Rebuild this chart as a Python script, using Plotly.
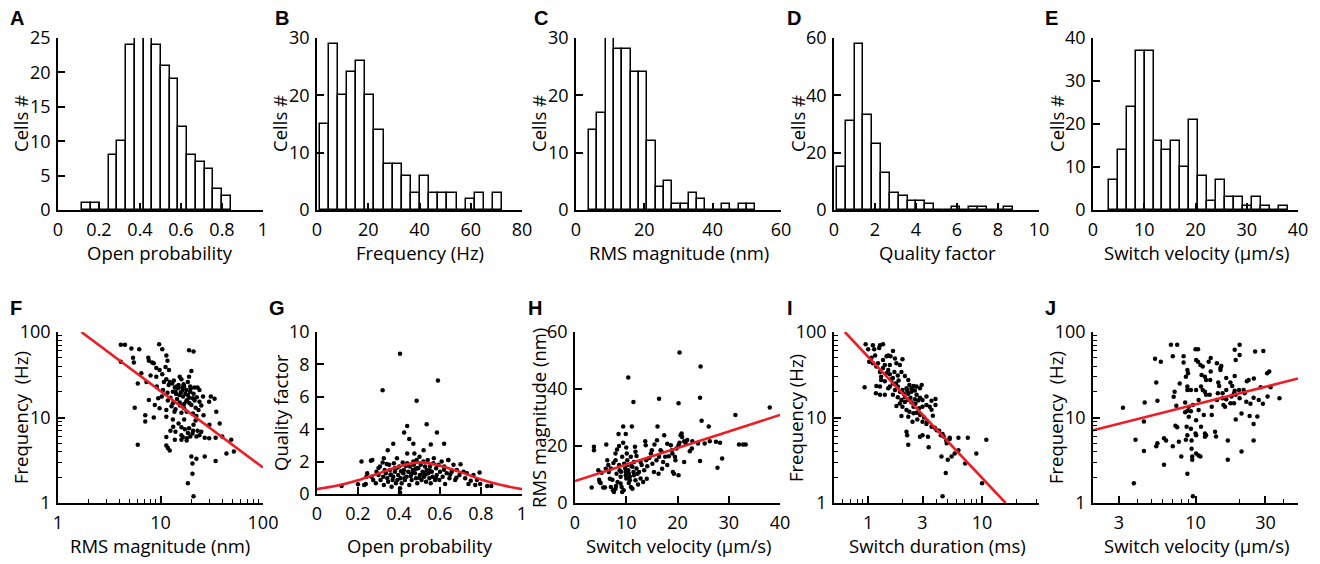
import plotly.graph_objects as go

# ---------------- histogram data (top row) ----------------
op_start, op_width = 0.119, 0.0426
op_counts = [1, 1, 0, 8, 10, 24, 25, 25, 24, 21, 19, 12, 8, 7, 6, 3, 2]

fr_start, fr_width = 1.04, 3.56
fr_counts = [15, 29, 20, 24, 26, 20, 14, 8, 8, 6, 3, 6, 3, 3, 3, 0, 2, 3, 0, 3]

rms_start, rms_width = 3.8, 2.435
rms_counts = [14, 17, 30, 28, 28, 24, 24, 12, 4, 5, 1, 1, 3, 2, 0, 0, 1, 0, 1, 1]

qf_start, qf_width = 0.146, 0.43
qf_counts = [15, 31, 58, 33, 23, 13, 6, 5, 3, 3, 2, 0, 0, 1, 0, 1, 1, 0, 0, 1]

sv_start, sv_width = 3.06, 1.75
sv_counts = [7, 14, 24, 37, 37, 16, 14, 16, 10, 21, 8, 2, 7, 3, 3, 1, 3, 1, 0, 1]

# ---------------- scatter data (bottom row) ----------------
# F: RMS magnitude vs frequency
f_rms = [4.1, 4.5, 9.7, 5.2, 6.2, 10.4, 19, 21,
         5.4, 7.6, 7.7, 4.1, 5.5, 8.3, 8.6, 11.4, 11.7, 9.1, 11.2,
         9.8, 10.4, 8, 9.1, 6.5, 12.1, 15.4, 16, 13.5, 20, 19,
         7.3, 6, 11.4, 12.3, 14.3, 14.8, 16.3, 17, 18, 19.5, 21.5, 23, 24, 10.6, 11.7, 13.2,
         15.4, 16.6, 18.5, 20.7, 22.6, 26, 31, 33.7, 10.3, 7.7, 9.5, 11.8, 13.2, 15.4, 17, 19.2, 24, 29.8, 12.8, 5.6,
         9.8, 11.4, 13.7, 16, 18, 20.7, 22.4, 26.3, 35, 7.1, 8.6, 11.4, 37.8, 13.2,
         7.1, 13.3, 16, 17.3, 18.5, 20.5, 22.4, 24, 27, 11.4, 13.8, 16, 18, 19.5, 29.8, 34.5, 49, 11.4, 11.8, 12.3, 6, 16,
         20, 22.4, 27, 20.5, 20.5, 18.5, 21, 34.5, 44, 52,
         13, 14, 15, 16.5, 17.5, 18.5, 19.5, 21, 14.5, 15.5, 17, 18.2, 20, 22, 13.8, 16.8, 19, 12.5, 14, 21.5,
         23.5, 25, 12, 10.8, 9.2, 8.8, 14.2, 15.8, 17.8, 19.8,
         15, 17, 19, 21, 23, 14, 16.5, 12.5, 18, 25, 30, 40, 22, 20.8]
f_freq = [71, 71, 72, 64, 63, 63, 61, 59,
          50, 50, 46, 45, 44, 44, 43, 53, 46, 38, 39,
          36, 32, 31, 30, 33, 36, 30, 28, 27, 35, 30,
          26, 25, 28, 26, 23, 22, 22.5, 23, 21, 23, 22.5, 22.5, 21, 21, 19.5, 20,
          18.3, 17.6, 18.3, 16.8, 17.3, 17.6, 17.6, 16.6, 17.6, 16, 16.8, 15.8, 14.7, 15, 14.4, 14.7, 15.3, 15.3, 13.5, 13,
          12.8, 12.2, 11.7, 11.4, 11.7, 11.1, 10.4, 10.6, 11.7, 10.6, 10, 10.2, 8.5, 9.5,
          9, 7.8, 7.7, 7.3, 6.6, 6.5, 6, 6.2, 5.8, 5.9, 5.5, 5.5, 5.7, 6, 5.7, 5.8, 5.5, 4.7, 4.4, 4.1, 4.8, 6.2,
          3.5, 3.3, 3.5, 2.9, 2.2, 1.7, 1.2, 3.1, 3.8, 4,
          25, 20, 24, 21, 19, 26, 20, 19, 16.5, 13.8, 12.8, 16, 14, 13, 22.5, 24.5, 17, 17, 12.5, 15.8,
          12.2, 13.8, 24, 26, 23, 14, 18.8, 19.8, 15.5, 22,
          8.5, 9.5, 7.5, 8.2, 7, 6.8, 5.9, 7, 5.4, 6.8, 8.2, 6, 9.2, 7]
f_fit_x = [1.69, 100]
f_fit_y = [100, 2.6]

# G: open probability vs quality factor
g_po = [0.405, 0.59, 0.32, 0.486, 0.44, 0.535, 0.425, 0.45, 0.585, 0.372, 0.345, 0.47, 0.62,
        0.555, 0.52, 0.475, 0.263, 0.326, 0.64, 0.7, 0.793, 0.12, 0.2, 0.83, 0.85, 0.405,
        0.217, 0.27, 0.23, 0.238, 0.241, 0.245, 0.266, 0.274, 0.287, 0.29,
        0.3, 0.307, 0.31, 0.32, 0.323, 0.326, 0.33, 0.336, 0.343, 0.347,
        0.352, 0.356, 0.359, 0.364, 0.369, 0.372, 0.375, 0.38, 0.385, 0.388,
        0.392, 0.396, 0.401, 0.405, 0.408, 0.413, 0.418, 0.421, 0.424, 0.429,
        0.434, 0.437, 0.44, 0.445, 0.45, 0.454, 0.457, 0.462, 0.467, 0.47,
        0.473, 0.478, 0.483, 0.486, 0.489, 0.494, 0.5, 0.502, 0.506, 0.51,
        0.515, 0.519, 0.522, 0.527, 0.532, 0.535, 0.54, 0.543, 0.548, 0.551,
        0.555, 0.56, 0.564, 0.568, 0.576, 0.581, 0.584, 0.592, 0.597, 0.6,
        0.608, 0.613, 0.62, 0.625, 0.633, 0.641, 0.646, 0.657, 0.666, 0.674,
        0.682, 0.695, 0.715, 0.723, 0.731, 0.739, 0.75, 0.763, 0.772, 0.78, 0.796,
        0.36, 0.38, 0.41, 0.43, 0.46, 0.48, 0.5, 0.53, 0.55, 0.58,
        0.62, 0.65, 0.68, 0.3, 0.34, 0.39, 0.44, 0.49, 0.52, 0.57]
g_qf = [8.66, 7.0, 6.4, 5.75, 4.2, 4.3, 3.8, 3.4, 3.8, 3.1, 2.7, 3.1, 3.1,
        3.05, 2.7, 2.5, 2.06, 2.2, 2.1, 1.84, 1.32, 0.5, 0.6, 0.5, 0.5, 0.1,
        2.0, 2.1, 0.56, 0.62, 1.07, 1.28, 1.07, 0.87, 0.66, 1.38,
        1.18, 1.7, 0.87, 1.94, 1.07, 0.56, 1.48, 1.28, 0.97, 0.76,
        1.8, 1.48, 1.18, 0.45, 0.87, 1.07, 1.9, 1.38, 0.66, 1.59,
        0.87, 1.18, 1.7, 0.35, 0.97, 0.66, 1.94, 1.28, 1.48, 0.87,
        1.73, 1.07, 2.5, 1.38, 0.56, 1.7, 1.11, 0.87, 1.48, 2.0,
        1.8, 1.28, 0.97, 2.1, 0.66, 1.59, 2.3, 1.18, 1.8, 0.87,
        1.38, 2.0, 1.07, 1.7, 0.76, 1.48, 2.1, 1.28, 0.97, 1.7,
        0.66, 1.38, 1.07, 1.9, 0.87, 1.59, 1.18, 1.8, 0.87, 1.38,
        2.0, 1.07, 1.7, 0.62, 1.28, 2.1, 0.97, 1.38, 1.8, 0.87,
        1.48, 1.18, 1.38, 0.97, 1.28, 0.62, 0.82, 1.18, 0.56, 0.87, 0.62,
        1.2, 1.6, 1.4, 1.0, 1.25, 1.55, 1.0, 1.2, 1.45, 1.0,
        1.5, 1.2, 1.0, 1.6, 1.85, 2.2, 1.9, 1.6, 1.3, 2.2]
g_fit_x = [0, 0.1, 0.2, 0.3, 0.4, 0.5, 0.6, 0.7, 0.8, 0.9, 1.0]
g_fit_y = [0.3, 0.52, 0.85, 1.27, 1.7, 1.95, 1.75, 1.35, 0.9, 0.55, 0.3]

# H: switch velocity vs RMS magnitude
h_vel = [20.4, 24.5, 10.4, 11.4, 16.4, 20.2, 24.4, 24.7, 31.3, 38, 26.1, 32, 32.8, 33.3, 28.7,
         27.8, 24.4, 22.9, 24, 25.3, 27.5, 28.3, 26.3, 22.4, 22.8,
         3.25, 3.7, 3.7, 4.55, 4.7, 4.8, 5.2, 5.5, 5.85, 6.1,
         6.3, 6.5, 6.6, 7, 7.3, 7.4, 7.6, 7.9, 7.9, 8.1,
         8.3, 8.5, 8.6, 8.6, 8.7, 8.9, 8.9, 9.1, 9.2, 9.4,
         9.4, 9.6, 9.8, 9.9, 9.9, 10, 9.9, 10.1, 10.2, 10.2,
         10.4, 10.5, 10.7, 10.7, 10.9, 10.9, 11.1, 11.2, 11.4, 11.5,
         11.5, 11.7, 11.8, 12, 12.2, 12.5, 12.8, 13, 13.3, 13.7,
         13.8, 13.9, 14.1, 14.8, 15, 15.1, 15.4, 15.9, 16.1, 16.3,
         16.4, 16.7, 16.9, 17.2, 17.4, 17.6, 18, 18.3, 18.7, 18.9,
         19, 19.1, 19.3, 19.5, 19.6, 19.8, 20.2, 20.2, 20.4, 20.6,
         20.8, 20.9, 21.3, 21.3, 21.6, 21.9,
         7, 7.9, 11.2, 11.8, 12.8, 9.2,
         5, 6, 7.5, 8.2, 9, 10.5, 11, 12, 13.5, 14.5, 15.5, 17, 18, 6.8, 8, 10, 12.3, 14, 16, 9.5]
h_rms = [52.8, 47.9, 44, 35.4, 36.6, 35, 36.9, 28.9, 30.9, 33.5, 26.8, 20.5, 20.5, 20.5, 15.6,
         12.4, 14.7, 21.7, 20.9, 20.9, 21.5, 21.1, 21.7, 18.2, 19.1,
         5.4, 19.7, 18.5, 11.5, 8.2, 7.4, 10.6, 5.4, 5.4, 20.5,
         15, 13.3, 10.9, 12.1, 8.2, 4.5, 3.9, 17.4, 15, 10.3,
         7.4, 24.2, 20, 13.3, 11.5, 9.2, 6.8, 5.6, 16.2, 21.1,
         26.8, 13.8, 12.1, 10.9, 9.7, 8.6, 24.2, 17.4, 15, 13.3,
         11.5, 10.3, 9.2, 8, 5.6, 16.2, 26.8, 12.7, 10.9, 9.7,
         14.4, 19.7, 18, 12.1, 10.3, 10.9, 14.4, 13.3, 7.4, 21.7,
         20.3, 15, 12.9, 17.4, 18.5, 13.8, 10.9, 15, 26.8, 10.3,
         16.2, 18.5, 18, 14.4, 23.8, 16.2, 13.3, 16.4, 20.3, 18.5,
         17.4, 10.9, 10.3, 16.2, 15, 19.1, 9.7, 20.3, 21.1, 23.8,
         24.4, 23.2, 14.4, 21.7, 20.9, 22.1,
         5.6, 5, 5, 8, 8.6, 3.9,
         7, 12, 14, 18.8, 11, 7, 13, 16.5, 11.5, 15.8, 20.5, 12, 20.8, 8.5, 6, 19.5, 6.5, 8.5, 22, 4.5]
h_fit_x = [0, 40]
h_fit_y = [7.7, 30.9]

# I: switch duration vs frequency
i_dur = [0.95, 1.1, 1.27, 1.35, 1.0, 1.13, 1.25, 1.65, 1.5, 1.57,
         2.0, 1.02, 1.1, 1.22, 1.35, 1.77, 1.9, 0.93, 1.27, 1.3,
         1.5, 1.55, 1.7, 1.82, 1.96, 2.1, 2.25, 1.18, 1.27, 1.17,
         1.27, 1.4, 1.55, 1.65, 1.72, 1.82, 1.9, 2.0, 2.17, 2.3,
         2.4, 2.5, 2.66, 2.85, 2.95, 1.65, 1.82, 1.96, 2.1, 2.25,
         2.4, 2.57, 2.66, 2.85, 1.77, 2.0, 2.17, 2.3, 2.5, 2.66,
         2.85, 3.0, 3.25, 3.47, 3.9, 3.9, 3.6, 2.25, 1.96, 2.45,
         3.0, 3.25, 3.6, 4.0, 4.35, 4.6, 4.85, 5.2, 6.2, 7.5,
         2.17, 2.2, 2.25, 2.85, 3.0, 3.35, 3.4, 4.4, 5.0, 5.4,
         5.75, 6.2, 7.1, 4.8, 8.9, 10, 10.9, 4.5, 3.85, 4.2,
         4.5, 5.2, 4.9, 1.07, 1.15, 1.45, 1.72, 1.18, 1.4, 1.55,
         1.3, 1.4, 1.65, 2.25, 2.4, 2.57, 2.75, 3.0, 3.25, 3.6,
         1.9, 2.1, 2.5,
         1.45, 1.6, 1.75, 1.85, 2.05, 2.2, 2.35, 2.6, 2.8, 3.1, 1.35, 1.5, 2.7, 3.3, 3.7]
i_freq = [72, 70, 70, 72, 63, 63, 65, 60, 53, 52,
          48, 45, 43, 43, 47, 43, 41, 22.6, 34, 30,
          36, 32, 34, 31, 34, 30.5, 27.5, 23.4, 23, 19.2,
          18.4, 18.4, 23, 25, 21, 23, 20, 21, 22, 24,
          22, 23.4, 23, 22, 24, 18.4, 17.3, 16, 17.3, 16,
          15, 16.4, 18.4, 17, 13.6, 13.4, 12.2, 11.7, 11.2, 11.4,
          10.7, 13.4, 14, 13.4, 14, 16.5, 12.3, 10.2, 10.4, 8.9,
          8.9, 8.4, 7.8, 7.1, 6.2, 6.0, 5.4, 5.8, 5.8, 5.8,
          6.8, 6.2, 4.8, 5.95, 6.2, 5.95, 4.5, 3.5, 3.2, 3.5,
          3.8, 4.15, 2.9, 2.25, 3.8, 1.7, 5.5, 1.2, 7.6, 7.0,
          6.4, 5.6, 5.0, 50, 53, 52, 49, 39.5, 41, 41,
          27.5, 26.5, 29, 19, 20, 20.7, 15.8, 16, 17.6, 15.7,
          14.6, 15.2, 13.4,
          33, 28, 25, 27, 19, 20.5, 17, 14.5, 12.8, 10, 38, 22, 9.5, 9, 10.5]
i_fit_x = [0.624, 16.1]
i_fit_y = [100, 1]

# J: switch velocity vs frequency
j_vel = [3.2, 3.9, 3.8, 4.5, 4.45, 4.45, 5.3, 5.4, 5.5, 5.4,
         5.5, 5.8, 6.1, 6.3, 6.1, 6.8, 7.5, 7, 7.2, 7.1,
         7.4, 7.3, 7.5, 7, 7.8, 7.7, 8, 8.3, 8.3, 8.8,
         8.9, 8.6, 8.8, 8.8, 8.5, 9, 8.8, 8.5, 9.0, 8.7,
         8.8, 8.6, 8.8, 9.4, 9.4, 9.5, 9.5, 9.6, 9.3, 9.6,
         9.3, 9.3, 10, 10.4, 10.1, 10.4, 10.1, 10.5, 10.5, 10.1,
         10, 10.1, 10.1, 10.5, 10.8, 10.8, 11.2, 11, 11.6, 11.8,
         10.9, 11.2, 11.6, 11.8, 11.4, 10.9, 11.6, 11.6, 11.8, 12.3,
         12.7, 12.7, 12.6, 12.5, 12.9, 12.9, 13.6, 13.8, 14, 14.3,
         14.5, 14, 14.2, 14.8, 14.8, 15, 15.3, 15.3, 15.5, 15.9,
         16.2, 16.2, 16.2, 16.6, 16.6, 17.3, 17.8, 18.3, 18.5, 17.6,
         17.3, 18.3, 18.8, 18.8, 18.5, 18.8, 18.5, 20, 20, 19.8,
         20, 20.6, 20.6, 21.3, 21.6, 22.4, 22.2, 23, 23.4, 23.7,
         24.9, 25, 25.5, 24.9, 24.9, 26.4, 27, 27.8, 29, 28.8,
         31, 31.8, 32.5, 37.4, 30.8]
j_freq = [13, 5.5, 1.7, 15, 9, 4.05, 48.5, 25.6, 15.7, 4.6,
          5, 45, 5.7, 5.4, 2.8, 71, 71, 52, 20, 17.5,
          13.7, 8, 7.7, 4.6, 25, 5.2, 3.5, 52, 44, 36,
          33, 30, 23, 21, 15, 13.4, 12, 11.5, 10.2, 7.8,
          6.2, 5.5, 2.2, 5.4, 4.3, 3.5, 3.2, 1.2, 21, 14,
          11.8, 7.4, 63, 63, 47, 45, 21, 16, 12.2, 9.3,
          6.5, 6.2, 3.8, 3.6, 3.5, 41, 39.5, 31.5, 30, 27.5,
          23, 21, 20, 18.4, 10.7, 7.8, 6.5, 5.95, 6.2, 45,
          49.5, 34.5, 27.5, 18.4, 13.4, 10.7, 6.8, 6, 43, 25.6,
          23.4, 16, 19.2, 36, 38, 40, 19.2, 16.8, 14, 13.4,
          16.3, 21, 29, 3.2, 5.4, 25.6, 23.4, 19.2, 20.5, 17.6,
          14.7, 14.7, 18.4, 9.5, 30.5, 47, 62, 54, 71, 21,
          16.8, 11.1, 4, 21, 19.2, 26.5, 15.3, 27.5, 10.4, 14.5,
          17, 28.5, 59, 8.4, 5.4, 10.3, 16, 22.6, 60, 14.5,
          17.6, 34.5, 22.6, 16.8, 33]
j_fit_x = [2, 50]
j_fit_y = [7.1, 28.6]

# ---------------- layout helpers ----------------
# page body adds an 8px margin, so the figure is offset to fit the window
OFF = 8
W, H = 1320 - 2 * OFF, 564 - OFF
FONT = "Open Sans"
RED = "#ee1c24"


def xdom(left, right):
    return [(left - OFF) / W, (right - OFF) / W]


def ydom(top, bottom):
    return [1 - (bottom - OFF) / H, 1 - (top - OFF) / H]


def px(x):
    return (x - OFF) / W


def py(y):
    return 1 - (y - OFF) / H


fig = go.Figure()

hist_panels = [
    (op_start, op_width, op_counts),
    (fr_start, fr_width, fr_counts),
    (rms_start, rms_width, rms_counts),
    (qf_start, qf_width, qf_counts),
    (sv_start, sv_width, sv_counts),
]
for k, (start, width, counts) in enumerate(hist_panels):
    n = k + 1
    centers = [start + width * (i + 0.5) for i in range(len(counts))]
    fig.add_trace(go.Bar(x=centers, y=counts, width=width,
                         marker=dict(color="white", line=dict(color="black", width=1.5)),
                         xaxis="x%d" % n, yaxis="y%d" % n, showlegend=False))

scatter_panels = [
    (f_rms, f_freq, f_fit_x, f_fit_y, "linear"),
    (g_po, g_qf, g_fit_x, g_fit_y, "spline"),
    (h_vel, h_rms, h_fit_x, h_fit_y, "linear"),
    (i_dur, i_freq, i_fit_x, i_fit_y, "linear"),
    (j_vel, j_freq, j_fit_x, j_fit_y, "linear"),
]
for k, (xs, ys, fx, fy, shape) in enumerate(scatter_panels):
    n = k + 6
    fig.add_trace(go.Scatter(x=xs, y=ys, mode="markers",
                             marker=dict(color="black", size=4.5),
                             xaxis="x%d" % n, yaxis="y%d" % n, showlegend=False))
    fig.add_trace(go.Scatter(x=fx, y=fy, mode="lines", line=dict(color=RED, width=2.6, shape=shape),
                             xaxis="x%d" % n, yaxis="y%d" % n, showlegend=False, cliponaxis=True))

axis_common = dict(showline=True, linecolor="black", linewidth=1.6, ticks="inside",
                   ticklen=7, tickwidth=1.5, tickcolor="black", showgrid=False, zeroline=False,
                   automargin=False,
                   tickfont=dict(family=FONT, size=18, color="black"), fixedrange=True)

lefts = [58, 317, 576, 834, 1093]
widths = 205
# top row panels
top_x = [
    dict(range=[0, 1], tickvals=[0, 0.2, 0.4, 0.6, 0.8, 1]),
    dict(range=[0, 80], tickvals=[0, 20, 40, 60, 80]),
    dict(range=[0, 60], tickvals=[0, 20, 40, 60]),
    dict(range=[0, 10], tickvals=[0, 2, 4, 6, 8, 10]),
    dict(range=[0, 40], tickvals=[0, 10, 20, 30, 40]),
]
top_y = [
    dict(range=[0, 25], tickvals=[0, 5, 10, 15, 20, 25]),
    dict(range=[0, 30], tickvals=[0, 10, 20, 30]),
    dict(range=[0, 30], tickvals=[0, 10, 20, 30]),
    dict(range=[0, 60], tickvals=[0, 20, 40, 60]),
    dict(range=[0, 40], tickvals=[0, 10, 20, 30, 40]),
]

dec_minor = [2, 3, 4, 5, 6, 7, 8, 9, 20, 30, 40, 50, 60, 70, 80, 90]
log_y = dict(type="log", range=[0, 2], tickvals=[1, 10, 100], ticktext=["1", "10", "100"],
             minor=dict(ticks="inside", ticklen=4, tickwidth=1.2, tickcolor="black",
                        tickmode="array", tickvals=dec_minor, showgrid=False))
bot_x = [
    dict(type="log", range=[0, 2], tickvals=[1, 10, 100], ticktext=["1", "10", "100"],
         minor=dict(ticks="inside", ticklen=4, tickwidth=1.2, tickcolor="black",
                    tickmode="array", tickvals=dec_minor, showgrid=False)),
    dict(range=[0, 1], tickvals=[0, 0.2, 0.4, 0.6, 0.8, 1]),
    dict(range=[0, 40], tickvals=[0, 10, 20, 30, 40]),
    dict(type="log", range=[-0.3, 1.5], tickvals=[1, 3, 10], ticktext=["1", "3", "10"],
         minor=dict(ticks="inside", ticklen=4, tickwidth=1.2, tickcolor="black", tickmode="array",
                    tickvals=[0.6, 0.7, 0.8, 0.9, 2, 4, 5, 6, 7, 8, 9, 20, 30], showgrid=False)),
    dict(type="log", range=[0.30103, 1.69897], tickvals=[3, 10, 30], ticktext=["3", "10", "30"],
         minor=dict(ticks="inside", ticklen=4, tickwidth=1.2, tickcolor="black", tickmode="array",
                    tickvals=[2, 4, 5, 6, 7, 8, 9, 20, 40, 50], showgrid=False)),
]
bot_y = [
    log_y,
    dict(range=[0, 10], tickvals=[0, 2, 4, 6, 8, 10]),
    dict(range=[0, 60], tickvals=[0, 20, 40, 60]),
    log_y,
    log_y,
]

layout_axes = {}
for k in range(5):
    n = k + 1
    layout_axes["xaxis%d" % n] = dict(axis_common, domain=xdom(lefts[k], lefts[k] + widths),
                                      anchor="y%d" % n, ticklabelstandoff=3, **top_x[k])
    layout_axes["yaxis%d" % n] = dict(axis_common, domain=ydom(38, 210), anchor="x%d" % n,
                                      ticklabelstandoff=2, **top_y[k])
bot_bottom = [503, 494, 503, 503, 503]
bot_lefts = [58, 317, 575, 834, 1093]
for k in range(5):
    n = k + 6
    layout_axes["xaxis%d" % n] = dict(axis_common, domain=xdom(bot_lefts[k], bot_lefts[k] + widths),
                                      anchor="y%d" % n, ticklabelstandoff=3, **bot_x[k])
    layout_axes["yaxis%d" % n] = dict(axis_common, domain=ydom(332, bot_bottom[k]), anchor="x%d" % n,
                                      ticklabelstandoff=2, **bot_y[k])

annotations = []
# panel letters
letters = [("A", 8, 18), ("B", 273, 18), ("C", 532, 18), ("D", 785, 18), ("E", 1043, 18),
           ("F", 8, 308), ("G", 267, 308), ("H", 526, 308), ("I", 785, 308), ("J", 1043, 308)]
for txt, lx, ly in letters:
    annotations.append(dict(text="<b>%s</b>" % txt, x=px(lx), y=py(ly), xref="paper", yref="paper",
                            xanchor="left", yanchor="middle", showarrow=False,
                            font=dict(family="Liberation Sans", size=20, color="black")))

x_titles = [("Open probability", 160, 253), ("Frequency (Hz)", 420, 253), ("RMS magnitude (nm)", 679, 253),
            ("Quality factor", 937, 253), ("Switch velocity (µm/s)", 1196, 253),
            ("RMS magnitude (nm)", 160, 545), ("Open probability", 420, 545), ("Switch velocity (µm/s)", 678, 545),
            ("Switch duration (ms)", 937, 545), ("Switch velocity (µm/s)", 1196, 545)]
for txt, tx, ty in x_titles:
    annotations.append(dict(text=txt, x=px(tx), y=py(ty), xref="paper", yref="paper",
                            xanchor="center", yanchor="middle", showarrow=False, borderpad=0,
                            font=dict(family=FONT, size=18.5, color="black")))

y_titles = [("Cells #", 20, 124), ("Cells #", 279, 124), ("Cells #", 538, 124), ("Cells #", 797, 124),
            ("Cells #", 1056, 124),
            ("Frequency  (Hz)", 20, 418), ("Quality factor", 280, 413), ("RMS magnitude (nm)", 538, 418),
            ("Frequency (Hz)", 795, 418), ("Frequency  (Hz)", 1055, 418)]
for txt, tx, ty in y_titles:
    annotations.append(dict(text=txt, x=px(tx), y=py(ty), xref="paper", yref="paper",
                            xanchor="center", yanchor="middle", showarrow=False, textangle=-90,
                            borderpad=0,
                            font=dict(family=FONT, size=18.5, color="black")))

fig.update_layout(width=W, height=H, margin=dict(l=0, r=0, t=0, b=0),
                  plot_bgcolor="white", paper_bgcolor="white", bargap=0,
                  annotations=annotations, **layout_axes)

fig.write_html("out.html")
